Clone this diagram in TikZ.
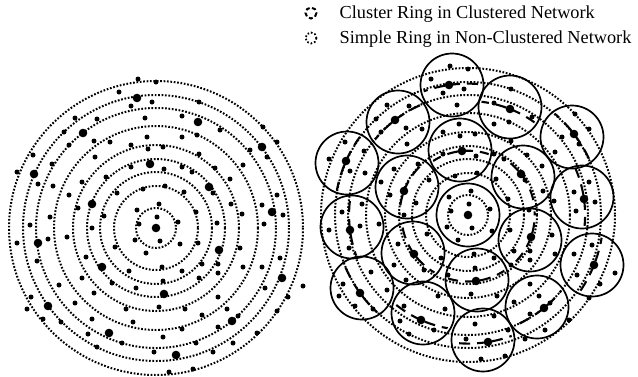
\documentclass[tikz,border=0pt]{standalone}
\usepackage{fontspec}
\setmainfont{Liberation Serif}
\tikzset{
  ring/.style={line width=2pt, dash pattern=on 1.7pt off 1.7pt},
  cluster/.style={draw, line width=1.7pt},
  cring/.style={line width=2.1pt, dash pattern=on 11pt off 7pt},
  legtext/.style={anchor=base west, inner sep=0pt, font=\fontsize{18.3}{20}\selectfont},
}
\def\smalldots{138/79,156/82,119/92,152/102,131/106,199/102,75/118,97/119,145/118,182/116,
64/132,220/130,263/127,94/141,110/142,131/145,147/137,182/137,197/135,277/142,69/145,33/155,
148/149,163/147,199/154,250/150,267/157,52/164,95/157,17/172,131/167,164/169,182/167,215/168,
243/165,38/184,53/186,82/182,106/177,192/172,230/179,69/195,117/193,143/189,165/186,184/192,
213/193,277/195,78/208,137/210,159/204,196/212,231/204,262/205,50/217,104/216,139/224,157/217,
178/222,217/223,242/214,283/215,30/225,92/228,264/224,67/237,135/240,160/241,180/244,198/243,
17/243,48/239,240/248,115/247,146/253,280/258,37/261,86/257,202/264,218/264,129/271,162/267,
182/271,243/267,262/267,59/285,82/278,112/283,136/288,163/281,199/278,218/273,265/288,303/286,
31/297,75/303,94/293,126/309,159/307,185/309,218/297,227/309,288/297,27/309,43/319,61/322,
92/319,133/322,202/315,238/316,277/311,88/334,163/337,182/329,218/327,257/333,122/343,196/343,
233/343,97/347,154/352,213/352,169/372,193/369}
\def\bigdots{137/98,83/133,198/122,34/174,150/164,262/147,209/187,92/204,272/212,156/228,
38/243,219/250,102/267,282/278,164/294,48/306,232/321,109/333,176/355}
\newcommand\drawnet{%
  \foreach \r in {20,42,56,69,83,102,120,133,147}
    \draw[ring] (156,228) circle[radius=\r];
  \foreach \a/\b in \smalldots \fill (\a,\b) circle[radius=2.5];
  \foreach \a/\b in \bigdots \fill (\a,\b) circle[radius=4.3];
}
\begin{document}
\begin{tikzpicture}[x=1pt,y=-1pt]
\useasboundingbox (0,0) rectangle (638,376);
% legend
\draw[line width=2pt, dash pattern=on 4pt off 2.6pt] (311,13) circle[radius=5.5];
\draw[line width=1.8pt, dash pattern=on 1.6pt off 2pt] (311,38) circle[radius=5.5];
\node[legtext] (t1) at (339.5,18.7) {Cluster Ring in Clustered Network};
\node[legtext] (t2) at (339.5,43.5) {Simple Ring in Non-Clustered Network};
% non-clustered network
\drawnet
% clustered network
\begin{scope}[xshift=312pt,yshift=13pt]
\drawnet
\end{scope}
\foreach \hx/\hy/\cx/\cy in {137/98/452/85,83/133/398/122,198/122/510/107,34/174/347/163,
150/164/460/150,262/147/572/137,209/187/523/177,92/204/407/187,272/212/582/197,
38/243/352/227,219/250/530/240,102/267/413/253,282/278/592/265,164/294/477/280,
48/306/362/288,232/321/537/307,109/333/423/313,176/355/483/340}{
  \pgfmathsetmacro\px{\hx+312}
  \pgfmathsetmacro\py{\hy-13}
  \pgfmathsetmacro\R{veclen(\px-468,\py-215)}
  \pgfmathsetmacro\th{atan2(\py-215,\px-468)}
  \pgfmathsetmacro\dl{34/\R*57.2958}
  \pgfmathsetmacro\ta{\th+\dl}
  \pgfmathsetmacro\tb{\th-\dl}
  \begin{scope}
    \clip (\cx,\cy) circle[radius=29];
    \draw[cring] plot[domain=\th:\ta, samples=20] ({468+\R*cos(\x)},{215+\R*sin(\x)});
    \draw[cring, dash phase=14pt] plot[domain=\th:\tb, samples=20] ({468+\R*cos(\x)},{215+\R*sin(\x)});
  \end{scope}
  \draw[cluster] (\cx,\cy) circle[radius=31.5];
}
\draw[cluster] (468,215) circle[radius=31.5];
\end{tikzpicture}
\end{document}
